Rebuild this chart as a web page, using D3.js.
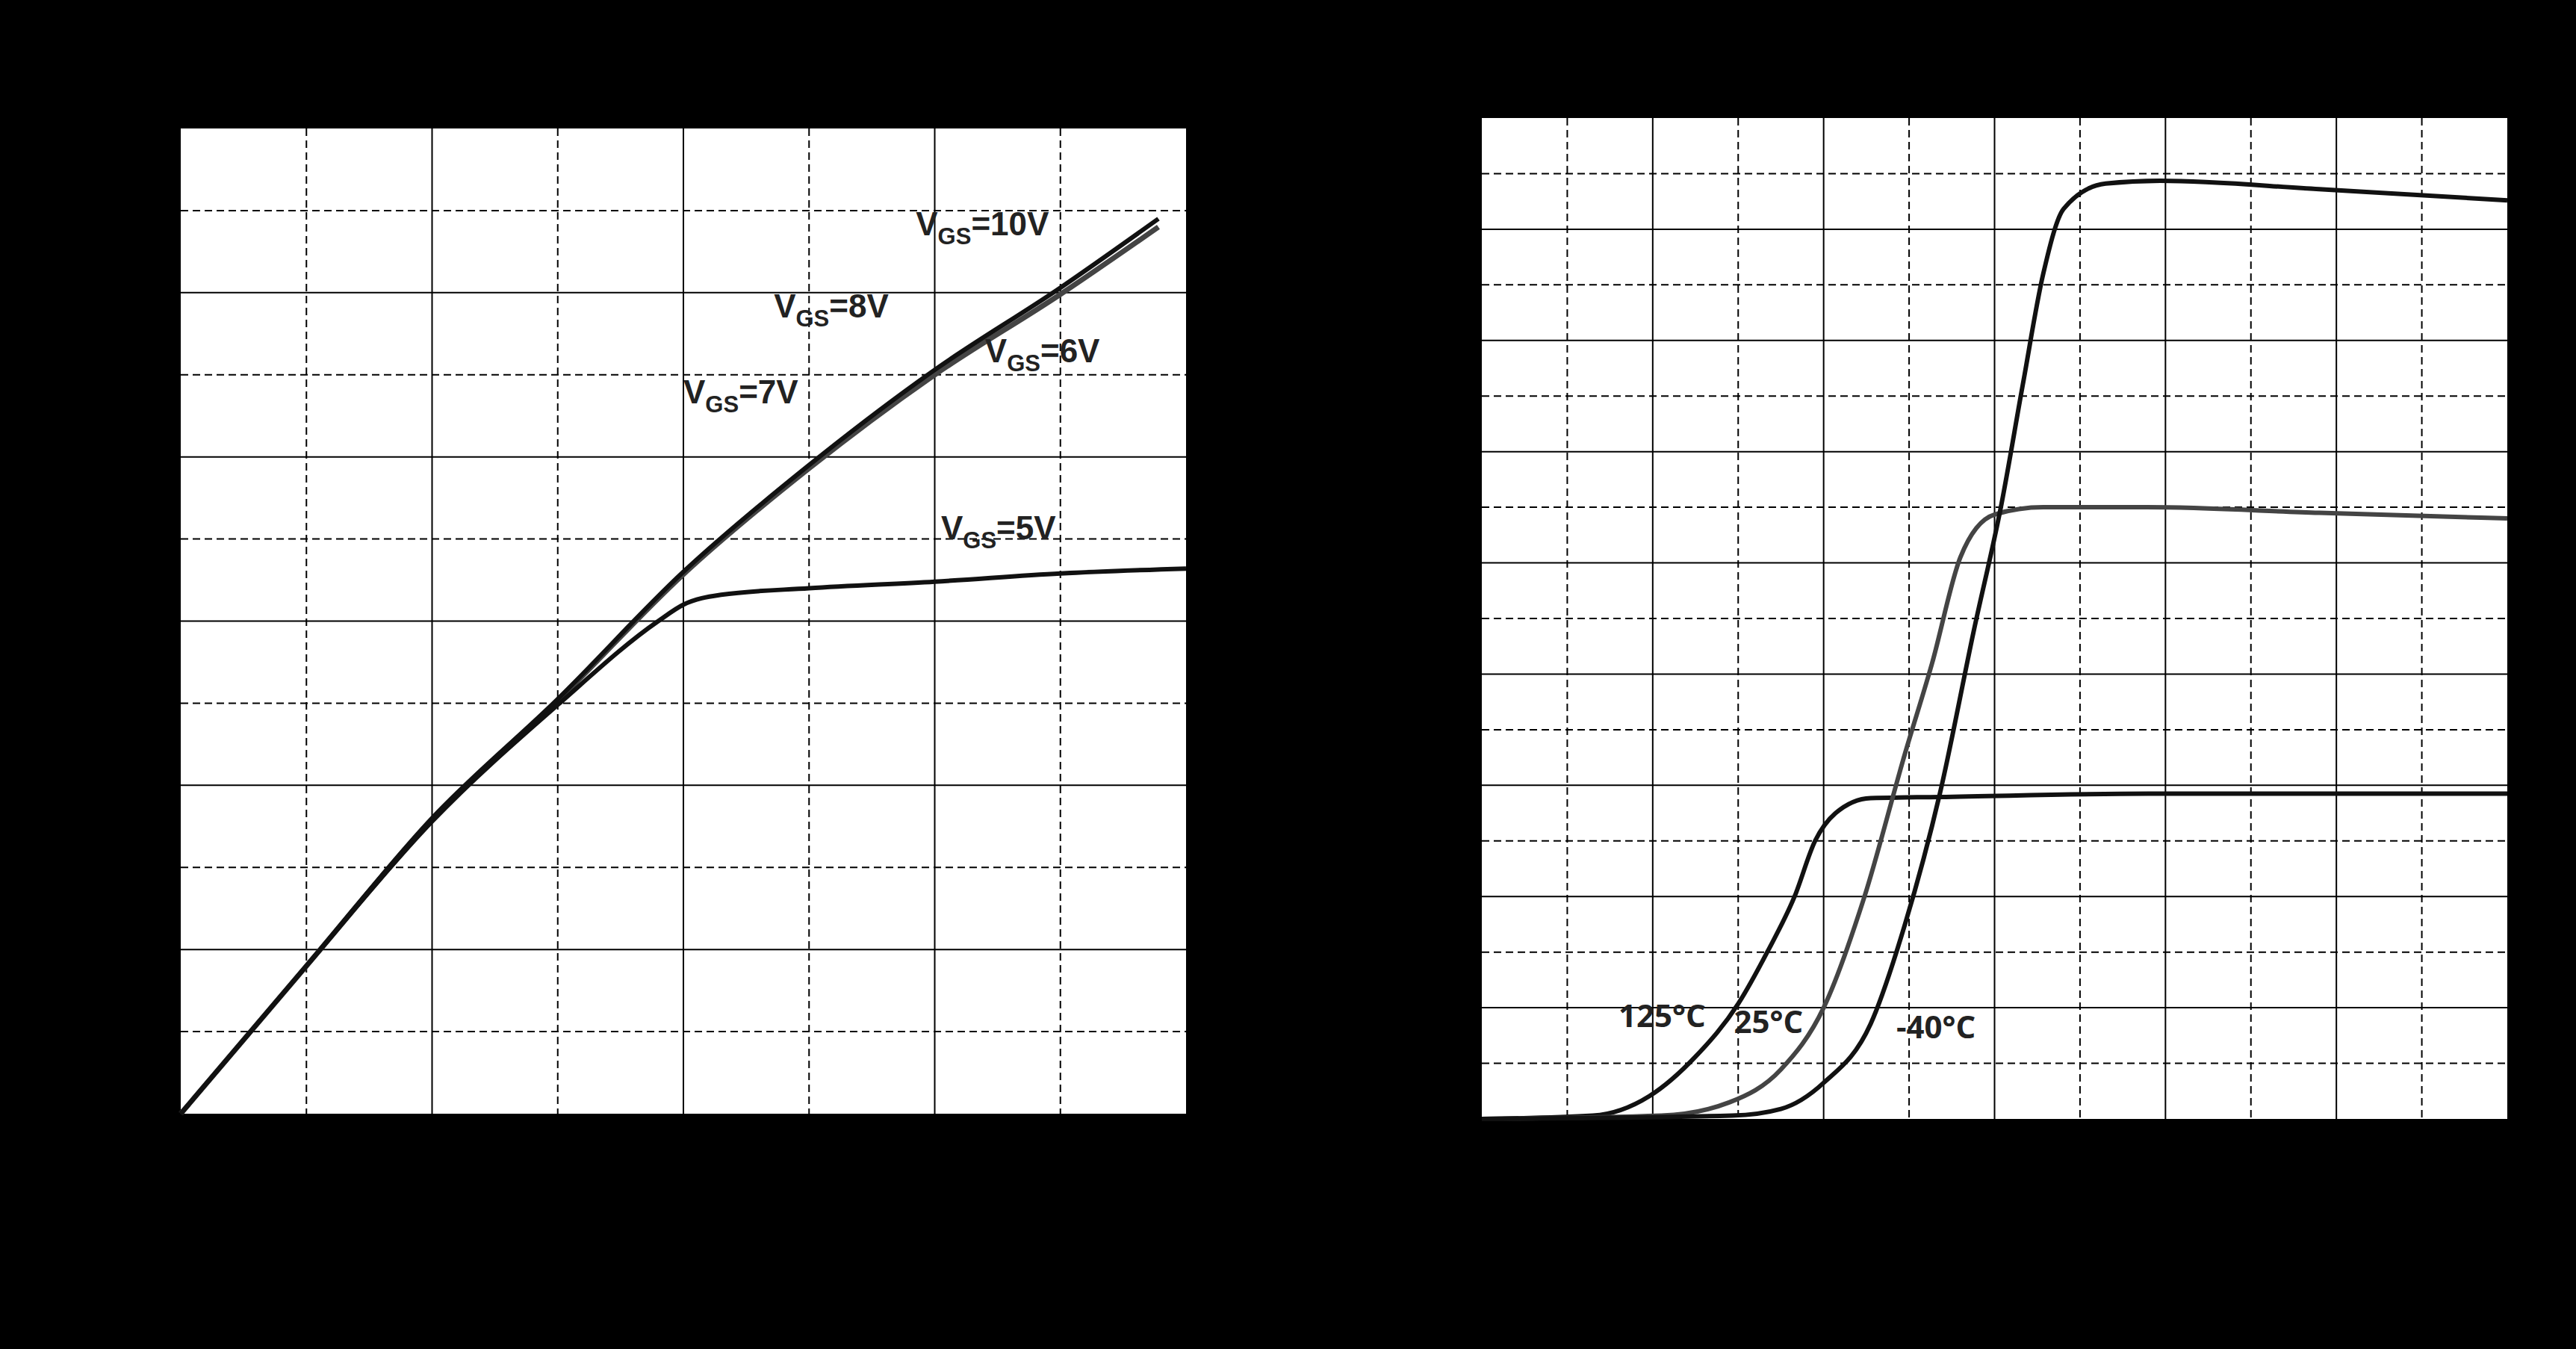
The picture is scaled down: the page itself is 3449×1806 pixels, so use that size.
<!DOCTYPE html>
<html><head><meta charset="utf-8">
<script src="https://cdn.jsdelivr.net/npm/d3@7"></script>
<style>
html,body{margin:0;padding:0;background:#000;}
svg{display:block;}
</style></head>
<body><svg id="chart" width="3449" height="1806"></svg>
<script>
// Data ---------------------------------------------------------------------
// Left: output characteristic (x 0..8 div, y 0..12 div)
const vgs10 = [[0,0],[1,1.8],[2,3.6],[3,5.05],[4,6.6],[5,7.9],[6,9.06],[7,10.06],[7.78,10.9]];
const vgs8  = [[0,0],[1,1.8],[2,3.58],[3,5.03],[4,6.57],[5,7.86],[6,9.0],[7,9.98],[7.78,10.8]];
const vgs5  = [[0,0],[1,1.8],[2,3.56],[3,4.98],[3.8,6.0],[4,6.2],[4.3,6.32],[5,6.4],[6,6.48],[7,6.58],[8,6.64]];
const leftLabels = [
  {sub:"GS", v:"=10V", x:5.85, y:10.7},
  {sub:"GS", v:"=8V",  x:4.72, y:9.7},
  {sub:"GS", v:"=7V",  x:4.0,  y:8.65},
  {sub:"GS", v:"=6V",  x:6.4,  y:9.15},
  {sub:"GS", v:"=5V",  x:6.05, y:7.0}
];
// Right: transfer characteristic (x 0..12 div, y 0..18 div)
const t125 = [[0,0],[1.3,0.06],[1.96,0.41],[2.5,1.12],[3.0,2.07],[3.34,3.0],[3.66,4.0],[3.9,5.0],[4.14,5.5],[4.55,5.77],[5.36,5.79],[7.8,5.85],[12,5.85]];
const t25  = [[0,0],[2.1,0.06],[2.9,0.3],[3.5,0.89],[4.0,2.0],[4.47,3.96],[4.95,6.56],[5.27,8.2],[5.6,10.1],[6.0,10.87],[6.57,11.0],[7.78,11.0],[9.8,10.9],[12,10.8]];
const tm40 = [[0,0],[2.93,0.06],[3.5,0.18],[4.0,0.65],[4.55,1.71],[4.95,3.49],[5.36,5.85],[5.76,8.8],[6.08,11.05],[6.33,13.2],[6.57,15.2],[6.81,16.37],[7.3,16.82],[7.94,16.87],[9.8,16.72],[12,16.52]];
const rightLabels = [
  {t:"125°C", x:1.6, y:1.65},
  {t:"25°C",  x:2.95, y:1.55},
  {t:"-40°C", x:4.85, y:1.45}
];

const svg = d3.select("#chart");

function panel(box, nx, ny) {
  const x = d3.scaleLinear().domain([0, nx]).range([box.x0, box.x1]);
  const y = d3.scaleLinear().domain([0, ny]).range([box.y1, box.y0]);
  const g = svg.append("g");
  g.append("rect").attr("x", box.x0).attr("y", box.y0)
    .attr("width", box.x1 - box.x0).attr("height", box.y1 - box.y0).attr("fill", "#fff");
  d3.range(1, nx).forEach(i => {
    g.append("line").attr("x1", x(i)).attr("x2", x(i)).attr("y1", box.y0).attr("y2", box.y1)
      .attr("stroke", "#000").attr("stroke-width", 2)
      .attr("stroke-dasharray", i % 2 ? "10,6" : null);
  });
  d3.range(1, ny).forEach(i => {
    g.append("line").attr("y1", y(i)).attr("y2", y(i)).attr("x1", box.x0).attr("x2", box.x1)
      .attr("stroke", "#000").attr("stroke-width", 2)
      .attr("stroke-dasharray", (ny - i) % 2 ? "10,6" : null);
  });
  return {g, x, y};
}

function curve(p, pts, color, w) {
  const line = d3.line().curve(d3.curveMonotoneX).x(d => p.x(d[0])).y(d => p.y(d[1]));
  p.g.append("path").datum(pts).attr("d", line).attr("fill", "none")
    .attr("stroke", color).attr("stroke-width", w).attr("stroke-linejoin", "round");
}

// Left panel
const L = panel({x0:242, x1:1588, y0:172, y1:1491}, 8, 12);
curve(L, vgs8, "#444", 7);
curve(L, vgs10, "#111", 6);
curve(L, vgs5, "#111", 6);
leftLabels.forEach(d => {
  const t = L.g.append("text").attr("x", L.x(d.x)).attr("y", L.y(d.y))
    .attr("font-family", "Liberation Sans, Arial, sans-serif").attr("font-weight", "bold")
    .attr("font-size", 44).attr("fill", "#222");
  t.append("tspan").text("V");
  t.append("tspan").attr("font-size", 31).attr("dy", 12).text(d.sub);
  t.append("tspan").attr("dy", -12).text(d.v);
});

// Right panel
const R = panel({x0:1984, x1:3357, y0:158, y1:1498}, 12, 18);
curve(R, t125, "#111", 6);
curve(R, t25, "#444", 6);
curve(R, tm40, "#111", 6);
rightLabels.forEach(d => {
  R.g.append("text").attr("x", R.x(d.x)).attr("y", R.y(d.y)).text(d.t)
    .attr("font-family", "Open Sans, sans-serif").attr("font-weight", "bold")
    .attr("font-size", 42).attr("fill", "#222");
});
</script></body></html>
